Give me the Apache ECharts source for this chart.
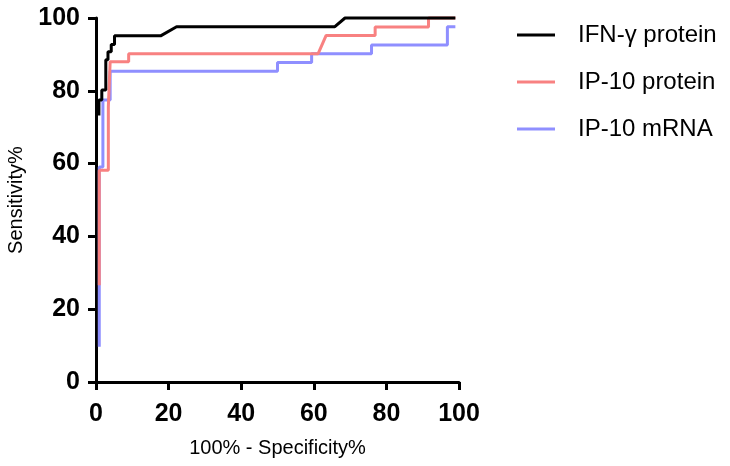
<!DOCTYPE html>
<html>
<head>
<meta charset="utf-8">
<script src="https://cdn.jsdelivr.net/npm/echarts@6/dist/echarts.min.js"></script>
<style>
  html, body { margin: 0; padding: 0; background: #fff; }
  #chart { width: 730px; height: 466px; }
</style>
</head>
<body>
<div id="chart"></div>
<script>
// ROC curves, x = 100% - Specificity%, y = Sensitivity%
var ifnX = [0.8, 0.8, 1.6, 1.6, 2.7, 2.7, 3.3, 3.3, 4.2, 4.2, 5.1, 5.1, 17.8, 22.2, 65.8, 68.6, 99]
var ifnY = [73.2, 77.5, 77.5, 80.2, 80.2, 88.5, 88.5, 90.7, 90.7, 92.7, 92.7, 95.1, 95.1, 97.6, 97.6, 100, 100]

var ipProtX = [0.9, 0.9, 3.4, 3.4, 3.9, 3.9, 9.0, 9.0, 61.2, 63.4, 76.9, 76.9, 91.6, 91.6, 99]
var ipProtY = [26.6, 58.2, 58.2, 75.6, 75.6, 88.0, 88.0, 90.2, 90.2, 95.2, 95.2, 97.5, 97.5, 100, 100]

var ipMrnaX = [0.9, 0.9, 1.9, 1.9, 3.9, 3.9, 50.0, 50.0, 59.4, 59.4, 75.9, 75.9, 96.8, 96.8, 99]
var ipMrnaY = [9.7, 59.1, 59.1, 77.5, 77.5, 85.4, 85.4, 87.8, 87.8, 90.2, 90.2, 92.6, 92.6, 97.6, 97.6]

var seriesNames = ['IFN-γ protein', 'IP-10 protein', 'IP-10 mRNA']
var seriesColors = ['#000000', '#f88181', '#8f8fff']

function pairs (xs, ys) {
  return xs.map(function (x, i) { return [x, ys[i]] })
}

var chart = echarts.init(document.getElementById('chart'))

var axisCommon = {
  type: 'value',
  min: 0,
  max: 100,
  interval: 20,
  splitLine: { show: false },
  axisLine: { show: true, lineStyle: { color: '#000', width: 3 } },
  axisTick: { show: true, length: 8, lineStyle: { color: '#000', width: 3 } },
  nameLocation: 'middle',
  nameMoveOverlap: false,
  nameTextStyle: {
    color: '#000',
    fontFamily: 'Liberation Sans, Arial, sans-serif',
    fontSize: 20
  }
}

var labelFont = {
  color: '#000',
  fontFamily: 'Liberation Sans, Arial, sans-serif',
  fontWeight: 'bold',
  fontSize: 25
}

var option = {
  animation: false,
  grid: { left: 96, top: 18, width: 363, height: 364, outerBoundsMode: 'none', containLabel: false },
  legend: {
    orient: 'vertical',
    left: 512,
    top: 18,
    itemGap: 23,
    itemWidth: 38,
    itemHeight: 3,
    icon: 'rect',
    data: seriesNames,
    textStyle: {
      color: '#000',
      fontFamily: 'Liberation Sans, Arial, sans-serif',
      fontSize: 24,
      padding: [0, 0, 0, 18]
    }
  },
  xAxis: Object.assign({}, axisCommon, {
    name: '100% - Specificity%',
    nameGap: 56,
    axisLabel: Object.assign({ margin: 20 }, labelFont)
  }),
  yAxis: Object.assign({}, axisCommon, {
    name: 'Sensitivity%',
    nameGap: 70,
    axisLabel: Object.assign({ margin: 16 }, labelFont)
  }),
  series: [
    {
      name: seriesNames[2],
      type: 'line',
      data: pairs(ipMrnaX, ipMrnaY),
      showSymbol: false,
      clip: false,
      z: 2,
      lineStyle: { color: seriesColors[2], width: 3 },
      itemStyle: { color: seriesColors[2] }
    },
    {
      name: seriesNames[1],
      type: 'line',
      data: pairs(ipProtX, ipProtY),
      showSymbol: false,
      clip: false,
      z: 3,
      lineStyle: { color: seriesColors[1], width: 3 },
      itemStyle: { color: seriesColors[1] }
    },
    {
      name: seriesNames[0],
      type: 'line',
      data: pairs(ifnX, ifnY),
      showSymbol: false,
      clip: false,
      z: 4,
      lineStyle: { color: seriesColors[0], width: 3 },
      itemStyle: { color: seriesColors[0] }
    }
  ]
}

chart.setOption(option)
</script>
</body>
</html>
